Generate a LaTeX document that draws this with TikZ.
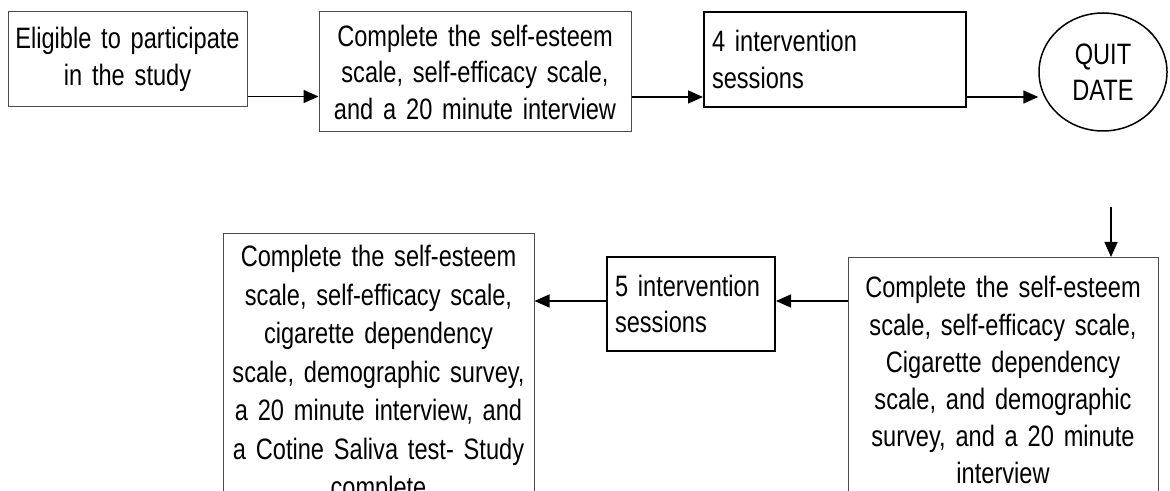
\documentclass[tikz,border=0pt]{standalone}
\usepackage{fontspec}
\setmainfont{Liberation Sans}[FakeStretch=0.8]
\usepackage{tikz}
\usetikzlibrary{arrows.meta,positioning,shapes.geometric,calc}

\begin{document}
\begin{tikzpicture}[->,>={Triangle[length=7.5pt,width=6.5pt]},line width=0.75pt,x=0.5pt,y=-0.5pt,
    every node/.style={font=\fontsize{14.75}{18.25}\selectfont},
    greybox/.style={draw=black!70,line width=0.5pt,rectangle,align=center,inner xsep=0pt},
    blackbox/.style={draw=black,line width=1pt,rectangle,align=left,inner xsep=4pt}]

    \clip (0,0) rectangle (1170,491);

    \node[greybox,text width=119.5pt,minimum height=47.5pt](elig) at (127.5,59.5) {Eligible to participate\\in the study};
    \node[greybox,text width=156pt,minimum height=60pt](scale1) at (475,72) {Complete the self-esteem\\scale, self-efficacy scale,\\and a 20 minute interview};
    \node[blackbox,text width=123pt,minimum height=47.5pt](sess4) at (835,59.5) {4 intervention\\sessions};
    \node[draw,ellipse,align=center,inner sep=0pt,minimum width=64pt,minimum height=59pt](quit) at (1103,72) {QUIT\\DATE};

    \node[greybox,text width=155pt,inner ysep=9.5pt,anchor=north,font=\fontsize{14.75}{18.6}\selectfont](scale2) at (1003,257) {Complete the self-esteem\\scale, self-efficacy scale,\\Cigarette dependency\\scale, and demographic\\survey, and a 20 minute\\interview};
    \node[blackbox,text width=76pt,minimum height=47pt](sess5) at (691,304) {5 intervention\\sessions};
    \node[greybox,text width=155.5pt,inner ysep=6pt,anchor=north,font=\fontsize{14.75}{19.25}\selectfont](scale3) at (378.5,233) {Complete the self-esteem\\scale, self-efficacy scale,\\cigarette dependency\\scale, demographic survey,\\a 20 minute interview, and\\a Cotine Saliva test- Study\\complete};

    \draw ([yshift=5.5pt]elig.south east) -- ([yshift=5.5pt]elig.south east -| scale1.west);
    \draw ([yshift=5.5pt]sess4.south west -| scale1.east) -- ([yshift=5.5pt]sess4.south west);
    \draw ([yshift=5.5pt]sess4.south east) -- ([yshift=5.5pt]sess4.south east -| quit.west);
    \coordinate (down) at (1111,207);
    \draw (down) -- (down |- scale2.north);
    \draw ([yshift=1.5pt]sess5.east -| scale2.west) -- ([yshift=1.5pt]sess5.east);
    \draw ([yshift=1.5pt]sess5.west) -- ([yshift=1.5pt]sess5.west -| scale3.east);

\end{tikzpicture}
\end{document}
